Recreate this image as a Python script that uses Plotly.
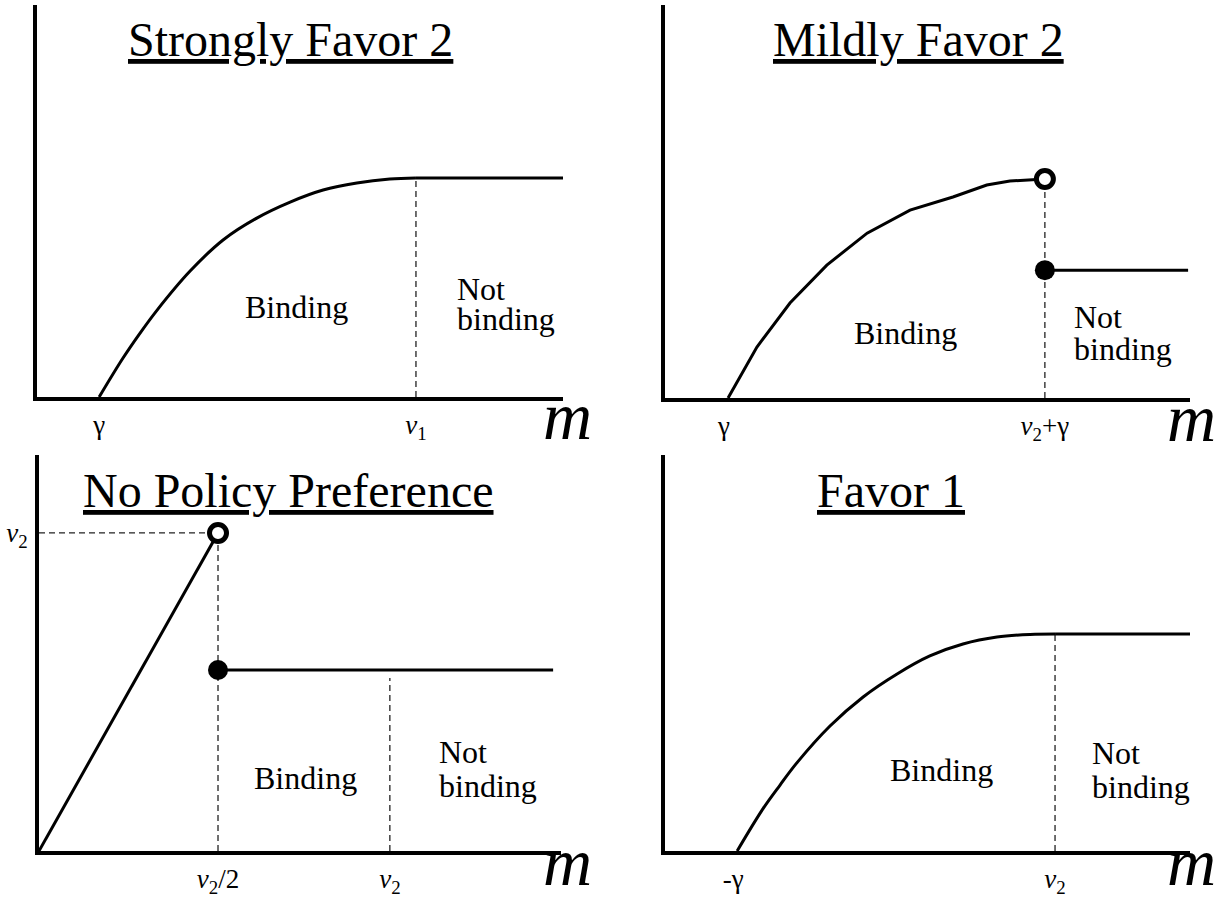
import plotly.graph_objects as go

W, H = 1225, 901
FONT = "Liberation Serif"

# ---------------- data (schematic units, threshold = 10) ----------------
# Panel 1: Strongly Favor 2
p1_curve_x = [1.64, 2.27, 2.72, 3.17, 4.04, 4.91, 5.80, 6.68, 7.55, 8.44, 9.31, 10.0]
p1_curve_y = [0.0, 1.78, 2.92, 3.97, 5.75, 7.17, 8.17, 8.90, 9.45, 9.77, 9.95, 10.0]
p1_flat_x = [10.0, 13.88]
p1_flat_y = [10.0, 10.0]
p1_v1 = 10.0
p1_ticks = [1.64, 10.0]
p1_ticktext = ["γ", "<i>v</i><sub>1</sub>"]

# Panel 2: Mildly Favor 2
p2_curve_x = [1.66, 2.42, 3.29, 4.26, 5.32, 6.45, 7.58, 8.47, 9.08, 10.0]
p2_curve_y = [0.0, 2.33, 4.34, 6.07, 7.53, 8.58, 9.18, 9.73, 9.91, 10.0]
p2_jump_x = 10.0
p2_open_y = 10.0
p2_fill_y = 5.84
p2_flat_x = [10.0, 13.77]
p2_ticks = [1.55, 10.0]
p2_ticktext = ["γ", "<i>v</i><sub>2</sub>+γ"]

# Panel 3: No Policy Preference
p3_line_x = [0.0, 5.0]
p3_line_y = [0.0, 10.0]
p3_half_v2 = 5.0
p3_v2_x = 9.8
p3_v2_y = 10.0
p3_fill_y = 5.69
p3_flat_x = [5.0, 14.36]
p3_v2_dash_top = 5.44
p3_ticks = [5.0, 9.8]
p3_ticktext = ["<i>v</i><sub>2</sub>/2", "<i>v</i><sub>2</sub>"]
p3_yticks = [10.0]
p3_yticktext = ["<i>v</i><sub>2</sub>"]

# Panel 4: Favor 1
p4_curve_x = [1.85, 2.51, 2.95, 3.38, 4.23, 5.08, 5.95, 6.79, 7.64, 8.51, 9.36, 10.0]
p4_curve_y = [0.0, 1.94, 3.04, 4.06, 5.76, 7.10, 8.16, 8.99, 9.54, 9.86, 9.98, 10.0]
p4_flat_x = [10.0, 13.46]
p4_flat_y = [10.0, 10.0]
p4_v2 = 10.0
p4_ticks = [1.75, 10.0]
p4_ticktext = ["-γ", "<i>v</i><sub>2</sub>"]

titles = ["Strongly Favor 2", "Mildly Favor 2", "No Policy Preference", "Favor 1"]

# ---------------- layout geometry (pixels) ----------------
frames = {
    1: dict(px=(37, 563, 5, 397), xr=(0, 13.88), yr=(0, 17.9)),
    2: dict(px=(665, 1190, 5, 398), xr=(0, 13.82), yr=(0, 17.95)),
    3: dict(px=(39, 561, 455, 851), xr=(0, 14.58), yr=(0, 12.45)),
    4: dict(px=(665, 1190, 455, 851), xr=(0, 13.46), yr=(0, 18.25)),
}

fig = go.Figure()

def ax_names(i):
    return ("x" if i == 1 else f"x{i}", "y" if i == 1 else f"y{i}")

DASH = dict(color="#222222", width=1.3, dash="6px,4px")
SOLID = dict(color="black", width=3)

def add_line(i, xs, ys, line, shape="linear", smoothing=None):
    xa, ya = ax_names(i)
    ld = dict(shape=shape, **line)
    if smoothing is not None:
        ld["smoothing"] = smoothing
    fig.add_trace(go.Scatter(x=xs, y=ys, mode="lines", xaxis=xa, yaxis=ya,
                             line=ld, hoverinfo="skip", showlegend=False))

def add_marker(i, x, y, filled):
    xa, ya = ax_names(i)
    if filled:
        mk = dict(symbol="circle", size=20, color="black",
                  line=dict(color="black", width=0))
    else:
        mk = dict(symbol="circle", size=17, color="white",
                  line=dict(color="black", width=5))
    fig.add_trace(go.Scatter(x=[x], y=[y], mode="markers", xaxis=xa, yaxis=ya,
                             marker=mk, cliponaxis=False, hoverinfo="skip",
                             showlegend=False))

# Panel 1
add_line(1, [p1_v1, p1_v1], [0, p1_flat_y[0]], DASH)
add_line(1, p1_curve_x, p1_curve_y, SOLID, "spline", 1.0)
add_line(1, p1_flat_x, p1_flat_y, SOLID)

# Panel 2
add_line(2, [p2_jump_x, p2_jump_x], [0, p2_open_y], DASH)
add_line(2, p2_curve_x, p2_curve_y, SOLID)
add_line(2, p2_flat_x, [p2_fill_y, p2_fill_y], SOLID)
add_marker(2, p2_jump_x, p2_open_y, False)
add_marker(2, p2_jump_x, p2_fill_y, True)

# Panel 3
add_line(3, [0, p3_half_v2], [p3_v2_y, p3_v2_y], DASH)
add_line(3, [p3_half_v2, p3_half_v2], [0, p3_v2_y], DASH)
add_line(3, [p3_v2_x, p3_v2_x], [0, p3_v2_dash_top], DASH)
add_line(3, p3_line_x, p3_line_y, SOLID)
add_line(3, p3_flat_x, [p3_fill_y, p3_fill_y], SOLID)
add_marker(3, p3_line_x[-1], p3_line_y[-1], False)
add_marker(3, p3_half_v2, p3_fill_y, True)

# Panel 4
add_line(4, [p4_v2, p4_v2], [0, p4_flat_y[0]], DASH)
add_line(4, p4_curve_x, p4_curve_y, SOLID, "spline", 1.0)
add_line(4, p4_flat_x, p4_flat_y, SOLID)

tick_info = {1: (p1_ticks, p1_ticktext), 2: (p2_ticks, p2_ticktext),
             3: (p3_ticks, p3_ticktext), 4: (p4_ticks, p4_ticktext)}

TICKFONT = dict(family=FONT, size=27, color="black")

layout_axes = {}
for i, fr in frames.items():
    l, r, t, b = fr["px"]
    xd = [l / W, r / W]
    yd = [1 - b / H, 1 - t / H]
    xa, ya = ax_names(i)
    xkey = "xaxis" if i == 1 else f"xaxis{i}"
    ykey = "yaxis" if i == 1 else f"yaxis{i}"
    tv, tt = tick_info[i]
    layout_axes[xkey] = dict(
        domain=xd, range=list(fr["xr"]), anchor=ya, showline=True, linewidth=4,
        linecolor="black", showgrid=False, zeroline=False, ticks="",
        tickmode="array", tickvals=tv, ticktext=tt, ticklabelstandoff=1,
        tickfont=TICKFONT, fixedrange=True)
    ydict = dict(
        domain=yd, range=list(fr["yr"]), anchor=xa, showline=True, linewidth=4,
        linecolor="black", showgrid=False, zeroline=False, ticks="",
        fixedrange=True, showticklabels=False)
    if i == 3:
        ydict.update(showticklabels=True, tickmode="array", tickvals=p3_yticks,
                     ticktext=p3_yticktext, ticklabelstandoff=2, tickfont=TICKFONT)
    layout_axes[ykey] = ydict

annotations = []
title_pos = [(290, 39), (918, 39), (288, 491), (891, 491)]
for txt, (cx, cy) in zip(titles, title_pos):
    annotations.append(dict(text=txt, x=cx / W, y=1 - cy / H, xref="paper", yref="paper",
                            xanchor="center", yanchor="middle", showarrow=False,
                            font=dict(family=FONT, size=48, color="black",
                                      lineposition="under")))
m_pos = [(567, 416), (1191, 418), (567, 862), (1191, 862)]
for cx, cy in m_pos:
    annotations.append(dict(text="<i>m</i>", x=cx / W, y=1 - cy / H, xref="paper",
                            yref="paper", xanchor="center", yanchor="middle",
                            showarrow=False,
                            font=dict(family=FONT, size=68, color="black")))
region_labels = {
    1: [("Binding", 6.86, 4.1, "center"), ("Not", 11.03, 4.95, "left"), ("binding", 11.03, 3.55, "left")],
    2: [("Binding", 6.32, 2.95, "center"), ("Not", 10.71, 3.7, "left"), ("binding", 10.71, 2.25, "left")],
    3: [("Binding", 7.43, 2.3, "center"), ("Not", 11.12, 3.1, "left"), ("binding", 11.12, 2.05, "left")],
    4: [("Binding", 7.08, 3.75, "center"), ("Not", 10.90, 4.5, "left"), ("binding", 10.90, 2.95, "left")],
}
for i, labs in region_labels.items():
    xa, ya = ax_names(i)
    for txt, x, y, anc in labs:
        annotations.append(dict(text=txt, x=x, y=y, xref=xa, yref=ya, xanchor=anc,
                                yanchor="middle", showarrow=False,
                                font=dict(family=FONT, size=32, color="black")))

fig.update_layout(
    width=W, height=H, margin=dict(l=0, r=0, t=0, b=0, pad=0),
    paper_bgcolor="white", plot_bgcolor="white", showlegend=False,
    font=dict(family=FONT, color="black"),
    annotations=annotations, **layout_axes)

fig.write_html("out.html", config={"displayModeBar": False},
               post_script="document.body.style.margin='0px';document.body.style.overflow='hidden';")
